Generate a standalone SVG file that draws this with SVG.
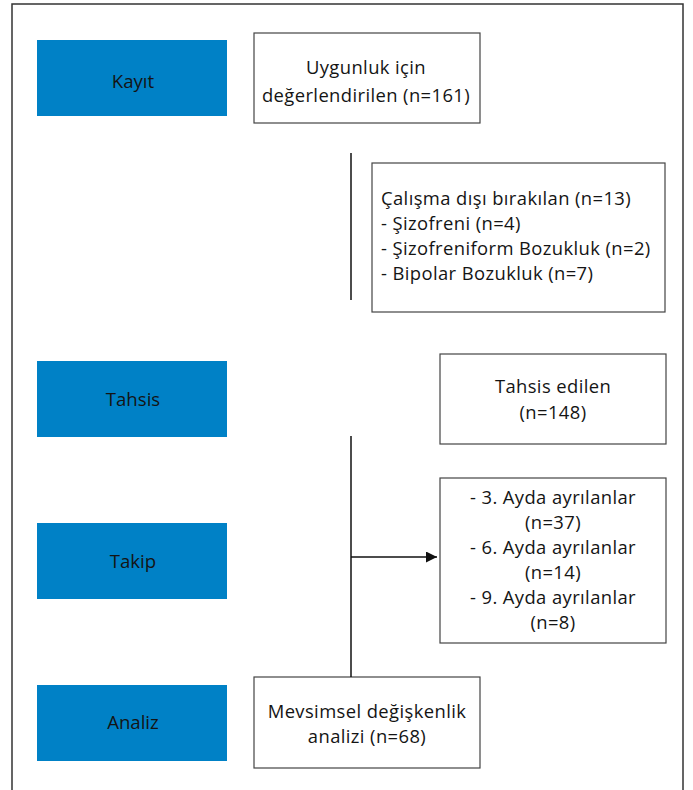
<svg xmlns="http://www.w3.org/2000/svg" width="693" height="790" viewBox="0 0 693 790">
<defs>
<style>
.stage{fill:#0081C6;}
.box{fill:#fff;stroke:#444;stroke-width:1.2;}
.t{font-family:"Open Sans","Noto Sans",sans-serif;font-size:18.4px;letter-spacing:0.4px;fill:#141414;}
.s{font-size:18.6px;letter-spacing:0;}
.c{text-anchor:middle;}
.ln{stroke:#111;stroke-width:1.5;fill:none;}
</style>
<marker id="arr" viewBox="0 0 10 10" refX="10" refY="5" markerWidth="16" markerHeight="11" markerUnits="userSpaceOnUse" orient="auto">
<path d="M0,0 L10,5 L0,10 z" fill="#111"/>
</marker>
</defs>
<rect width="693" height="790" fill="#fff"/>
<rect x="12" y="4" width="671" height="800" fill="none" stroke="#333" stroke-width="1.5"/>

<g id="kayit">
<rect class="stage" x="37" y="40" width="190" height="76"/>
<text class="t s c" x="133" y="88">Kayıt</text>
</g>
<g id="uygunluk">
<rect class="box" x="254" y="33" width="226" height="90"/>
<text class="t c" x="366" y="74">Uygunluk için</text>
<text class="t c" x="366" y="102">değerlendirilen (n=161)</text>
</g>
<g id="calisma-disi">
<rect class="box" x="372" y="163" width="293" height="149"/>
<text class="t" x="381" y="205">Çalışma dışı bırakılan (n=13)</text>
<text class="t" x="381" y="230">- Şizofreni (n=4)</text>
<text class="t" x="381" y="255">- Şizofreniform Bozukluk (n=2)</text>
<text class="t" x="381" y="280">- Bipolar Bozukluk (n=7)</text>
</g>
<g id="tahsis">
<rect class="stage" x="37" y="361" width="190" height="76"/>
<text class="t s c" x="133" y="406">Tahsis</text>
</g>
<g id="tahsis-edilen">
<rect class="box" x="440" y="354" width="226" height="90"/>
<text class="t c" x="553" y="393">Tahsis edilen</text>
<text class="t c" x="553" y="419">(n=148)</text>
</g>
<g id="takip">
<rect class="stage" x="37" y="523" width="190" height="76"/>
<text class="t s c" x="133" y="568">Takip</text>
</g>
<g id="ayrilanlar">
<rect class="box" x="440" y="478" width="226" height="165"/>
<text class="t c" x="553" y="504">- 3. Ayda ayrılanlar</text>
<text class="t c" x="553" y="529">(n=37)</text>
<text class="t c" x="553" y="554">- 6. Ayda ayrılanlar</text>
<text class="t c" x="553" y="579">(n=14)</text>
<text class="t c" x="553" y="604">- 9. Ayda ayrılanlar</text>
<text class="t c" x="553" y="629">(n=8)</text>
</g>
<g id="analiz">
<rect class="stage" x="37" y="685" width="190" height="76"/>
<text class="t s c" x="133" y="729">Analiz</text>
</g>
<g id="mevsimsel">
<rect class="box" x="254" y="677" width="226" height="91"/>
<text class="t c" x="367" y="718">Mevsimsel değişkenlik</text>
<text class="t c" x="367" y="743">analizi (n=68)</text>
</g>

<g id="connectors">
<line class="ln" x1="351" y1="153" x2="351" y2="300"/>
<line class="ln" x1="351" y1="436" x2="351" y2="677"/>
<line class="ln" x1="351" y1="557" x2="437" y2="557" marker-end="url(#arr)"/>
</g>
</svg>
